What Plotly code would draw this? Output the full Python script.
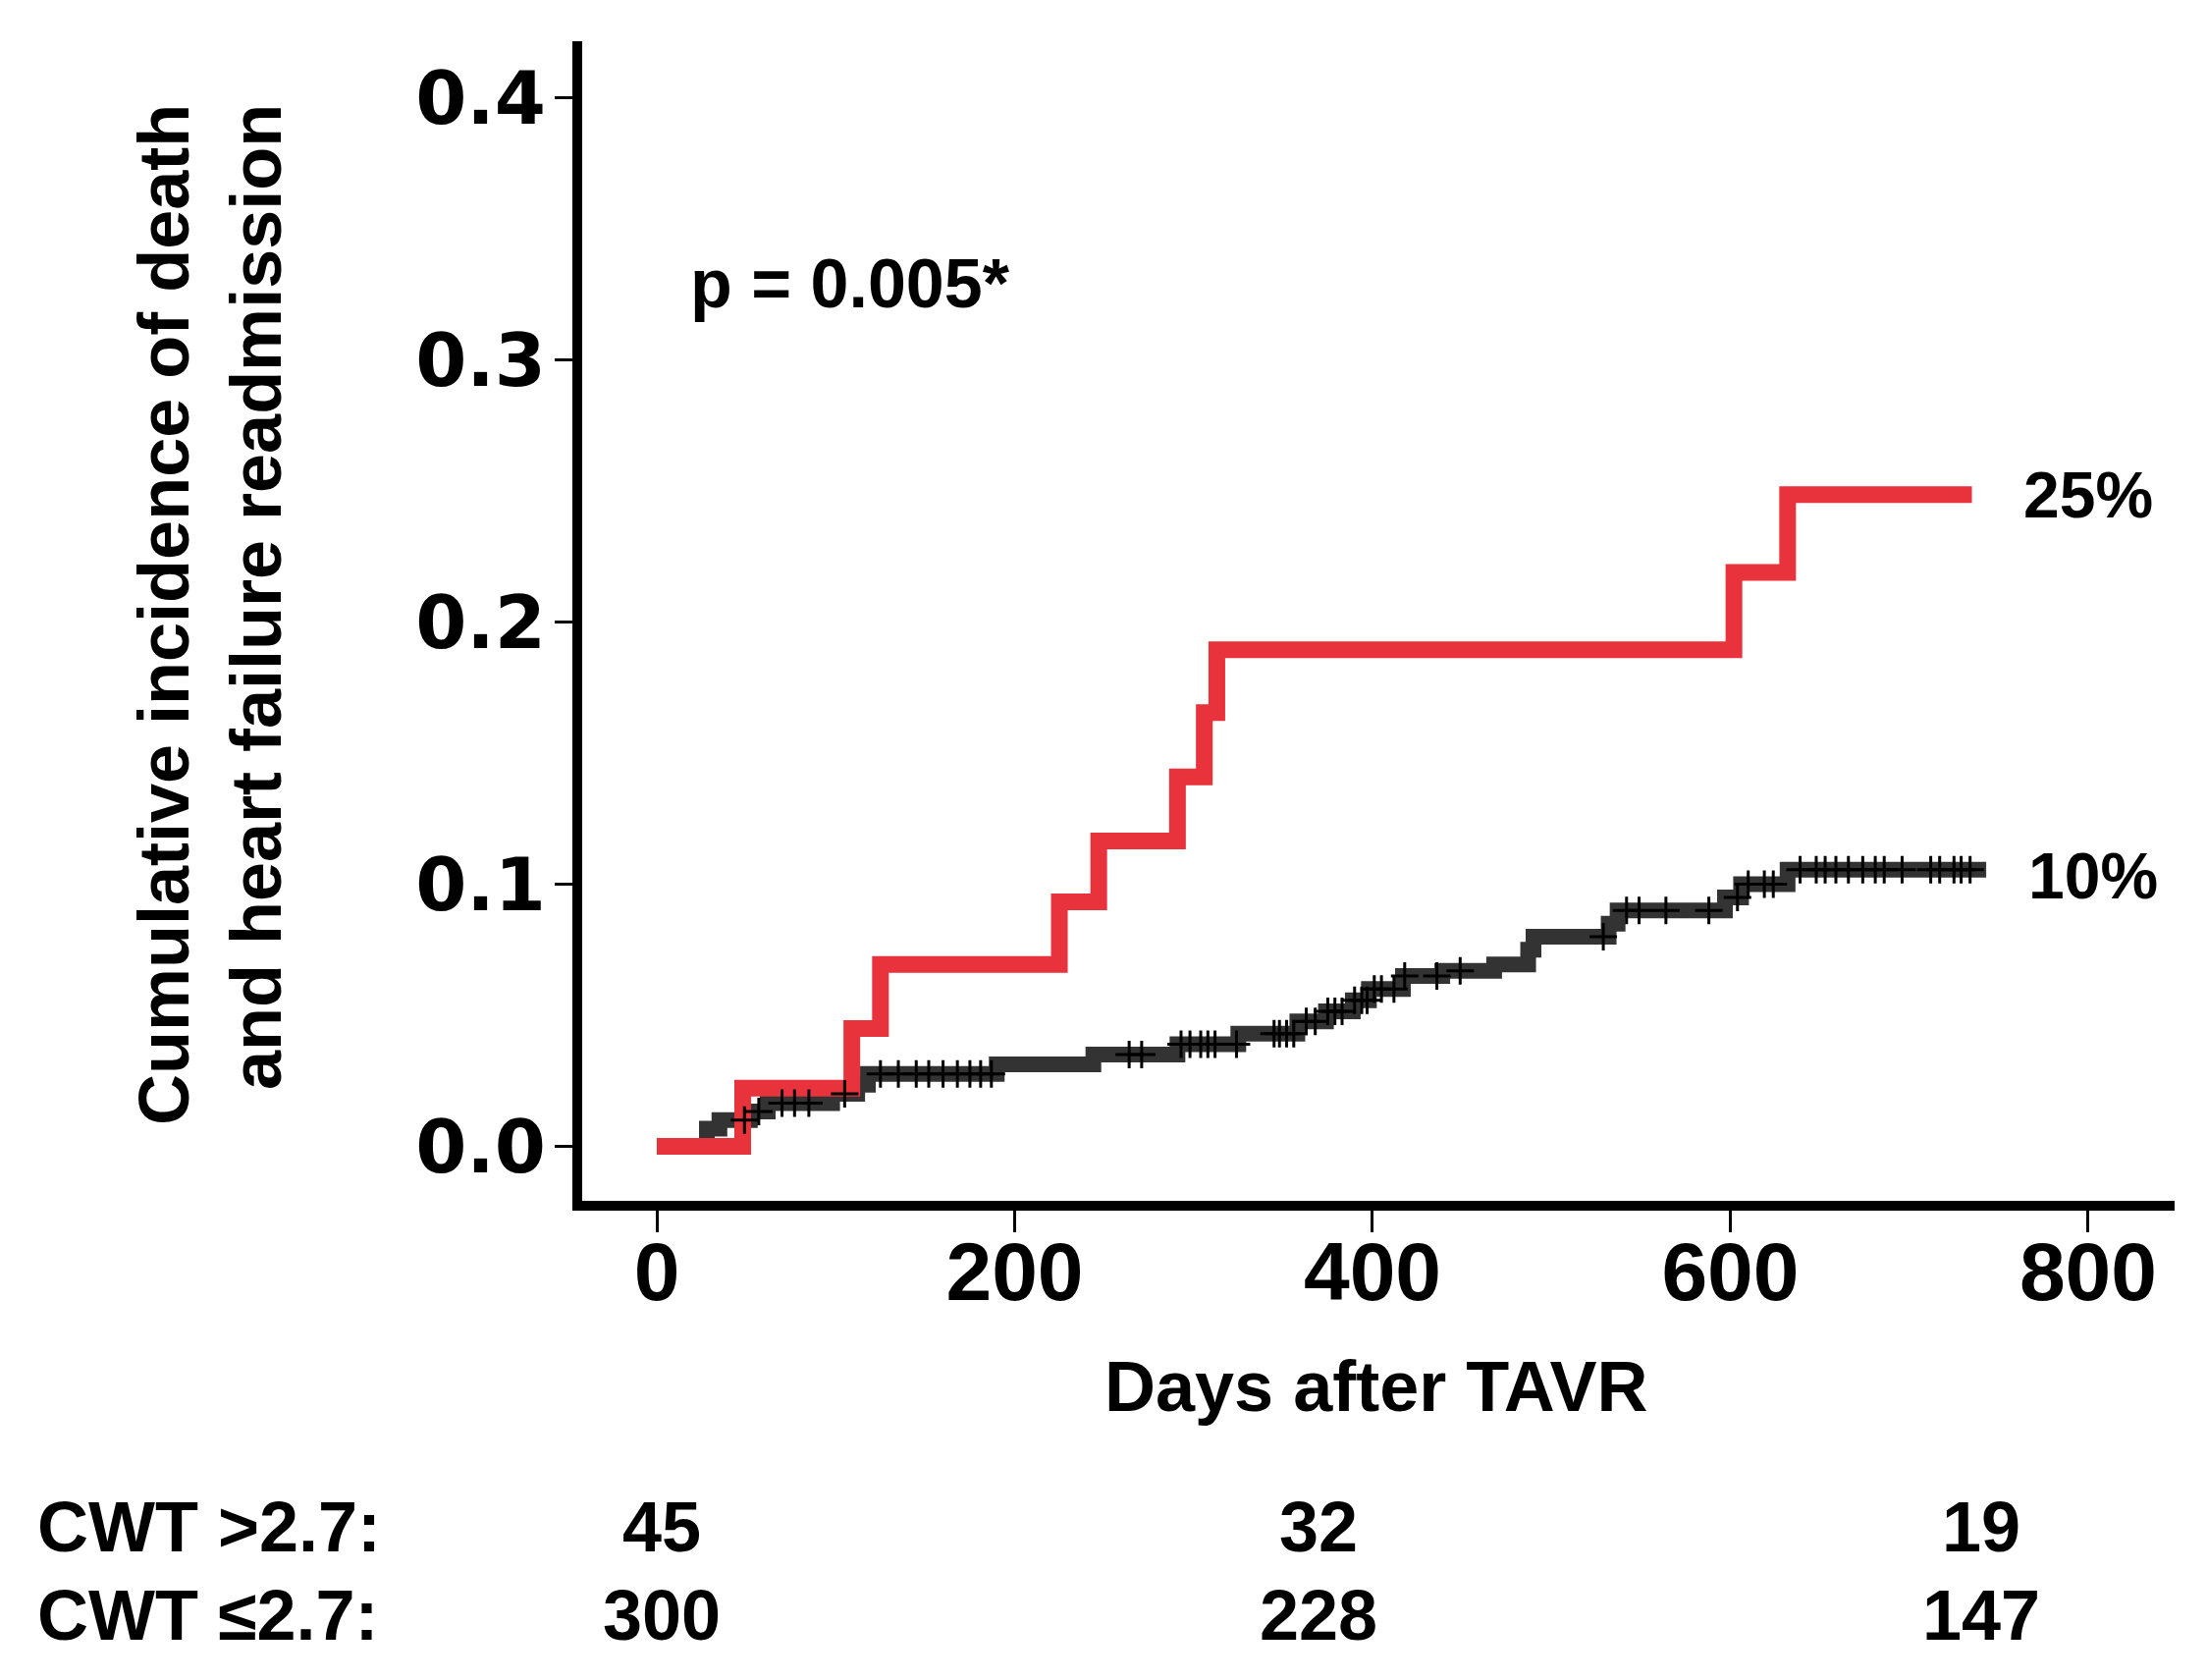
import numpy as np
import plotly.graph_objects as go

# ---- data ----
red_days = [0, 48, 109, 125, 225, 247, 291, 306, 313, 602, 632, 735]
red_vals = [0.0, 0.0222, 0.0450, 0.0694, 0.0933, 0.1165, 0.1410, 0.1655, 0.1895, 0.2190, 0.2487, 0.2487]

black_days = [0, 28, 35, 52, 62, 98, 112, 118, 190, 244, 291, 325, 358, 374, 389, 398, 417, 439,
              468, 487, 490, 532, 537, 597, 606, 632, 743]
black_vals = [0.0, 0.0067, 0.0100, 0.0133, 0.0165, 0.0200, 0.0235, 0.0276, 0.0313, 0.0350, 0.0390,
              0.0430, 0.0477, 0.0515, 0.0557, 0.0600, 0.0650, 0.0670, 0.0694, 0.0750, 0.0800,
              0.0850, 0.0900, 0.0950, 0.1000, 0.1056, 0.1056]

black_censor_days = [49, 57, 70, 77, 85, 105, 125, 135, 145, 152, 160, 168, 175, 181, 187,
                     264, 271, 293, 298, 304, 308, 312, 324, 345, 348, 352, 356, 363, 368, 375,
                     379, 383, 390, 394, 397, 401, 405, 412, 418, 436, 449, 529, 542, 549, 564,
                     588, 604, 610, 619, 624, 639, 648, 653, 659, 666, 674, 681, 686, 696, 712,
                     717, 725, 729, 734]

x_ticks = [0, 200, 400, 600, 800]
y_ticks = [0.0, 0.1, 0.2, 0.3, 0.4]
y_tick_labels = ["0.0", "0.1", "0.2", "0.3", "0.4"]

end_labels = ["25%", "10%"]
end_label_vals = [0.2487, 0.1034]

risk_groups = ["CWT >2.7:", "CWT ≤2.7:"]
risk_days = [3, 370, 740]
risk_counts = [[45, 32, 19], [300, 228, 147]]

p_text = "p = 0.005*"
x_title = "Days after TAVR"
y_title = "Cumulative incidence of death<br>and heart failure readmission"

# ---- figure ----
W, H = 2248, 1711
OFF = 8  # page body margin
ML, MR, MT, MB = 585, 41, 34, 496
plot_w = W - ML - MR
plot_h = H - MT - MB

def px_to_paper_x(px):
    return (px - OFF - ML) / plot_w

def px_to_paper_y(py):
    return (H - MB - (py - OFF)) / plot_h

RED = "#E8323C"
DARK = "#333333"
TXT = dict(family="Liberation Sans, Arial, sans-serif", color="black", weight="bold")

bd = np.array(black_days)
bv = np.array(black_vals)
idx = np.searchsorted(bd, np.array(black_censor_days), side="right") - 1
censor_vals = bv[idx]

fig = go.Figure()
fig.add_trace(go.Scatter(x=black_days, y=black_vals, mode="lines", line=dict(color=DARK, width=16, shape="hv"),
                         showlegend=False, hoverinfo="skip"))
fig.add_trace(go.Scatter(x=red_days, y=red_vals, mode="lines", line=dict(color=RED, width=17, shape="hv"),
                         showlegend=False, hoverinfo="skip"))
fig.add_trace(go.Scatter(x=black_censor_days, y=censor_vals, mode="markers",
                         marker=dict(symbol="cross-thin", size=20, color="black",
                                     line=dict(color="black", width=3)),
                         showlegend=False, hoverinfo="skip"))

annotations = []
annotations.append(dict(x=108, y=0.329, xref="x", yref="y", text=p_text, showarrow=False,
                        xanchor="center", yanchor="middle", font=dict(size=70, **TXT)))
for lab, v, xd in zip(end_labels, end_label_vals, [800, 803]):
    annotations.append(dict(x=xd, y=v, xref="x", yref="y", text=lab, showarrow=False,
                            xanchor="center", yanchor="middle", font=dict(size=66, **TXT)))
annotations.append(dict(x=px_to_paper_x(1402), y=px_to_paper_y(1412), xref="paper", yref="paper",
                        text=x_title, showarrow=False, xanchor="center", yanchor="middle",
                        font=dict(size=72, **TXT)))
annotations.append(dict(x=px_to_paper_x(214), y=px_to_paper_y(626), xref="paper", yref="paper",
                        text=y_title, showarrow=False, xanchor="center", yanchor="middle",
                        textangle=-90, align="right", font=dict(size=72, **TXT)))
row_py = [1555, 1645]
for g, counts, py in zip(risk_groups, risk_counts, row_py):
    annotations.append(dict(x=px_to_paper_x(36), y=px_to_paper_y(py), xref="paper", yref="paper",
                            text=g, showarrow=False, xanchor="left", yanchor="middle",
                            font=dict(size=72, **TXT)))
    for d, c in zip(risk_days, counts):
        annotations.append(dict(x=d, y=px_to_paper_y(py), xref="x", yref="paper", text=str(c),
                                showarrow=False, xanchor="center", yanchor="middle",
                                font=dict(size=72, **TXT)))

fig.update_layout(
    width=W, height=H,
    margin=dict(l=ML, r=MR, t=MT, b=MB, pad=0),
    paper_bgcolor="white", plot_bgcolor="white",
    annotations=annotations,
    showlegend=False,
)
fig.update_xaxes(range=[-41.7, 848.3], tickvals=x_ticks, showgrid=False, zeroline=False,
                 showline=True, linecolor="black", linewidth=10,
                 ticks="outside", ticklen=22, tickwidth=2.5, tickcolor="black",
                 ticklabelstandoff=-32,
                 tickfont=dict(size=84, **TXT))
fig.update_yaxes(range=[-0.0208, 0.4217], tickvals=y_ticks, ticktext=y_tick_labels, showgrid=False,
                 zeroline=False, showline=True, linecolor="black", linewidth=10,
                 ticks="outside", ticklen=18, tickwidth=2.5, tickcolor="black",
                 ticklabelstandoff=-6,
                 tickfont=dict(size=75, family="DejaVu Sans, sans-serif", color="black", weight="bold"))

fig.write_html("out.html")
